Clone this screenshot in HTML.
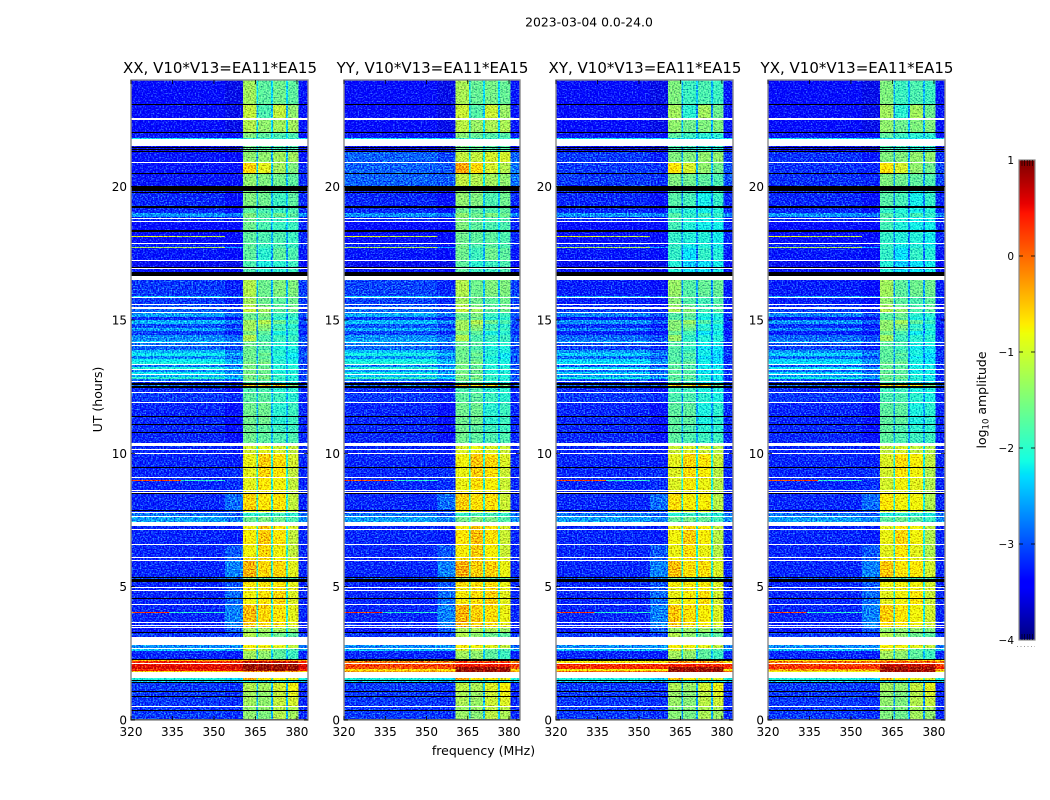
<!DOCTYPE html>
<html lang="en">
<head>
<meta charset="utf-8">
<title>2023-03-04 dynamic spectra</title>
<style>
html,body{margin:0;padding:0;background:#fff;width:1050px;height:800px;overflow:hidden}
svg{display:block}
text{font-family:"DejaVu Sans","Liberation Sans",sans-serif;fill:#000}
</style>
</head>
<body>
<svg id="figure" xmlns="http://www.w3.org/2000/svg" width="1050" height="800" viewBox="0 0 1050 800">
<defs>
<filter id="speckle0" filterUnits="userSpaceOnUse" x="131" y="80" width="177" height="640" color-interpolation-filters="sRGB"><feTurbulence type="fractalNoise" baseFrequency="0.62 0.75" numOctaves="1" seed="3" result="n"/><feColorMatrix in="n" type="matrix" values="0.5 0 0 0 0.25  1 0 0 0 0  0.25 0 0 0 0.375  0 0 0 0 1" result="m"/><feComposite in="SourceGraphic" in2="m" operator="arithmetic" k1="0" k2="1" k3="1.8" k4="-0.9"/></filter>
<filter id="speckle1" filterUnits="userSpaceOnUse" x="344" y="80" width="176" height="640" color-interpolation-filters="sRGB"><feTurbulence type="fractalNoise" baseFrequency="0.62 0.75" numOctaves="1" seed="11" result="n"/><feColorMatrix in="n" type="matrix" values="0.5 0 0 0 0.25  1 0 0 0 0  0.25 0 0 0 0.375  0 0 0 0 1" result="m"/><feComposite in="SourceGraphic" in2="m" operator="arithmetic" k1="0" k2="1" k3="1.8" k4="-0.9"/></filter>
<filter id="speckle2" filterUnits="userSpaceOnUse" x="556" y="80" width="177" height="640" color-interpolation-filters="sRGB"><feTurbulence type="fractalNoise" baseFrequency="0.62 0.75" numOctaves="1" seed="23" result="n"/><feColorMatrix in="n" type="matrix" values="0.5 0 0 0 0.25  1 0 0 0 0  0.25 0 0 0 0.375  0 0 0 0 1" result="m"/><feComposite in="SourceGraphic" in2="m" operator="arithmetic" k1="0" k2="1" k3="1.8" k4="-0.9"/></filter>
<filter id="speckle3" filterUnits="userSpaceOnUse" x="768" y="80" width="177" height="640" color-interpolation-filters="sRGB"><feTurbulence type="fractalNoise" baseFrequency="0.62 0.75" numOctaves="1" seed="37" result="n"/><feColorMatrix in="n" type="matrix" values="0.5 0 0 0 0.25  1 0 0 0 0  0.25 0 0 0 0.375  0 0 0 0 1" result="m"/><feComposite in="SourceGraphic" in2="m" operator="arithmetic" k1="0" k2="1" k3="1.8" k4="-0.9"/></filter>
</defs>
<text x="589" y="26.5" font-size="12.4" text-anchor="middle">2023-03-04 0.0-24.0</text>
<text x="220" y="73" font-size="15" text-anchor="middle">XX, V10*V13=EA11*EA15</text>
<text x="432.5" y="73" font-size="15" text-anchor="middle">YY, V10*V13=EA11*EA15</text>
<text x="645" y="73" font-size="15" text-anchor="middle">XY, V10*V13=EA11*EA15</text>
<text x="857" y="73" font-size="15" text-anchor="middle">YX, V10*V13=EA11*EA15</text>
<text x="483.5" y="755" font-size="12.5" text-anchor="middle">frequency (MHz)</text>
<text transform="translate(102,399.5) rotate(-90)" font-size="12.5" text-anchor="middle">UT (hours)</text>
<text transform="translate(986,400) rotate(-90)" font-size="12.5" text-anchor="middle">log<tspan font-size="8.5" dy="2.5">10</tspan><tspan dy="-2.5"> amplitude</tspan></text>
<g id="panels"></g>
<g id="colorbar"></g>
</svg>
<script>
// ---------- data ----------
const W = null;   // flagged: white
const K = -9;     // zeroed: black
const xTicks = [320, 335, 350, 365, 380];
const yTicks = [0, 5, 10, 15, 20];
const colorbarTicks = [1, 0, -1, -2, -3, -4];
const panelNames = ['xx', 'yy', 'xy', 'yx'];
// frequency edges (MHz) of: bg, ramp, band1, gap, band2, gap, band3, gap, band4, tail
const freqEdges = [320, 354, 360.5, 365.4, 366, 370.6, 371.3, 376, 376.8, 380.6, 384];
// rows: [top time bin (2.25 min each), bg, ramp, band1, band2, band3, band4, gap, tail] in log10 amplitude
const timeRows = [
[640,-3.2,-3.2,-1.3,-1.7,-1.6,-1.7,-2.3,-3.1],[616,K],[615,-3.2,-3.2,-1.1,-1.8,-1.1,-1.4,-2.5,-3.1],[602,W],
[600,-3.2,-3.2,-1.2,-1.4,-1.3,-1.3,-2.3,-3.1],[588,K],[587,-3.1,-3.1,-1.5,-1.7,-1.8,-1.8,-2.3,-3.1],[582,-2,-2,-2,-2,-2,-2,-2,-2],[581,W],
[574,-3.3,-3.3,-1.6,-1.7,-1.8,-1.8,-2.5,-3.2],[573,K],[572,-3.3,-3.3,-1.6,-1.7,-1.8,-1.8,-2.5,-3.2],[571,K],[570,-3.3,-3.3,-1.6,-1.7,-1.8,-1.8,-2.5,-3.2],[569,K],
[568,-3.1,-3.1,-1.4,-1.4,-1.3,-1.3,-2.5,-3.1],[558,W],[557,-3.1,-3,-0.6,-0.9,-1.3,-1.5,-2.4,-3],[547,K],
[546,-3.1,-3,-1.4,-1.5,-1.6,-1.7,-2.5,-3],[534,K],[529,-3,-3,-1.5,-1.6,-1.9,-1.7,-2.5,-3],[528,K],
[527,-3,-3,-1.5,-1.6,-1.9,-1.7,-2.5,-3],[514,K],[512,-3,-3,-1.7,-1.8,-1.9,-1.8,-2.5,-3],
[507,-2.45,-2.4,-1.5,-1.7,-1.6,-1.7,-2.2,-2.5],[503,-3,-3,-1.6,-1.8,-1.9,-1.9,-2.4,-3],[502,W],[501,-3,-3,-1.6,-1.8,-1.9,-1.9,-2.4,-3],[499,W],
[498,-3.2,-3.1,-1.6,-1.8,-1.9,-1.9,-2.4,-3],[490,K],[488,-3.2,-3.1,-1.7,-1.8,-1.8,-1.9,-2.5,-3],
[477,W],[476,-3,-3,-1.7,-1.9,-1.8,-1.9,-2.5,-3],[473,-2,-2.2,-1.6,-1.9,-1.8,-1.9,-2.5,-3],[472,-3.1,-3.1,-1.7,-2,-1.7,-1.8,-2.6,-3.1],
[460,W],[459,-3.3,-3.2,-1.8,-2.1,-2,-1.9,-2.6,-3.2],[453,K],[452,W],[451,-3.1,-3.1,-1.8,-2,-2,-1.9,-2.6,-3.1],[448,K],[444,W],
[440,-2.9,-2.9,-1.2,-1.6,-1.5,-1.5,-2.5,-2.9],[424,-2.2,-2.2,-1.3,-1.6,-1.6,-1.6,-2.4,-2.6],[423,W],
[422,-2.9,-2.9,-1.3,-1.6,-1.7,-1.6,-2.5,-2.9],[416,W],[415,-2.8,-2.8,-1.2,-1.5,-1.7,-1.6,-2.5,-2.9],[413,W],
[411,-2.7,-2.7,-1.1,-1.3,-1.7,-1.6,-2.5,-2.9],[408,W],
[407,-2.4,-2.5,-1.6,-1.5,-1.9,-1.9,-2.5,-2.8],[403,-3,-3,-1.6,-1.6,-2,-2,-2.7,-3],[400,-2.3,-2.4,-1.3,-1.2,-1.6,-1.8,-2.5,-2.8],
[396,-2.8,-2.8,-1.3,-1.4,-1.9,-2,-2.6,-3],[392,-2.4,-2.5,-1.3,-1.5,-1.8,-1.9,-2.5,-2.8],[389,-2.9,-2.9,-1.5,-1.7,-2.1,-2,-2.7,-3],
[385,-2.5,-2.5,-1.2,-1.8,-1.9,-1.9,-2.5,-2.8],[379,-2.2,-2.3,-1.6,-1.7,-2,-2,-2.5,-2.7],[378,W],[377,-2.6,-2.6,-1.6,-1.7,-2,-2,-2.6,-2.8],[375,W],
[374,-2.7,-2.7,-1.6,-1.8,-2.1,-2.1,-2.6,-2.9],[370,-2.3,-2.4,-1.6,-1.7,-2,-2.1,-2.5,-2.8],[367,-2,-2.2,-1.6,-1.6,-2,-2.2,-2.5,-2.7],
[364,-2.5,-2.5,-1.6,-1.7,-2.1,-2.2,-2.6,-2.9],[361,-2,-2.2,-1.6,-1.6,-2,-2.1,-2.5,-2.8],[358,-1.9,-2.1,-1.5,-1.5,-2,-2.1,-2.5,-2.8],[356,W],
[355,-2.6,-2.6,-1.6,-1.7,-2.1,-2.1,-2.6,-2.9],[353,-1.9,-2.1,-1.5,-1.6,-2,-2,-2.5,-2.8],[351,W],[350,-2.5,-2.5,-1.6,-1.6,-2.1,-2.1,-2.6,-2.9],
[348,-2,-2.2,-1.5,-1.6,-2,-2,-2.5,-2.8],[346,W],[345,-2.3,-2.3,-1.6,-1.6,-2,-2.1,-2.5,-2.9],[343,-1.8,-2,-1.5,-1.5,-1.9,-2,-2.4,-2.8],
[341,-2.6,-2.6,-1.6,-1.7,-2,-2.1,-2.6,-2.9],[339,W],[338,-3,-3,-1.8,-1.8,-2.1,-2.1,-2.6,-3],[337,K],
[335,-2.6,-2.6,-0.5,-0.5,-0.6,-1.4,-2.2,-2.8],[334,K],[332,-3,-3,-1.8,-1.8,-2,-2,-2.6,-3],[328,W],
[327,-2.9,-2.8,-1.7,-1.7,-1.9,-2,-2.5,-3],[318,W],[317,-3,-3,-1.6,-1.6,-2,-1.9,-2.5,-3],[304,K],[303,-3,-3,-1.6,-1.6,-2,-1.9,-2.5,-3],
[296,K],[295,-3,-3,-1.6,-1.7,-1.9,-1.9,-2.5,-3],[288,K],[287,-3,-3,-1.6,-1.7,-1.8,-1.8,-2.5,-3],[277,W],
[274,-3,-2.9,-1,-0.9,-1,-1.1,-2.2,-3],[271,W],[270,-3,-2.9,-1,-0.9,-1,-1.1,-2.2,-3],[267,W],
[266,-3,-2.9,-0.85,-0.55,-0.65,-1,-2,-3],[253,K],[252,-3,-2.8,-0.9,-0.6,-0.7,-1.1,-2,-3],[243,W],[242,-3,-2.8,-0.9,-0.7,-0.8,-1.1,-2,-3],
[230,W],[229,-3,-2.7,-0.8,-0.8,-0.8,-1.1,-2,-3],[228,W],[227,K],[226,-3,-2.5,-0.6,-0.7,-0.7,-1.1,-2,-3],[210,K],
[209,-3,-2.7,-0.9,-0.9,-0.9,-1.2,-2.1,-3],[208,W],[207,-2.6,-2.6,-2,-1.9,-1.9,-2,-2.4,-2.6],[204,W],
[203,-2.4,-2.4,-1.6,-1.5,-1.6,-1.8,-2.1,-2.5],[198,W],[194,-3,-2.9,-0.8,-0.55,-0.7,-1,-2,-3],[191,W],
[190,-3,-2.9,-0.75,-0.5,-0.7,-1.1,-2,-3],[176,W],[175,-3,-2.6,-0.8,-0.6,-0.8,-1.1,-2,-3],[163,W],[162,-3,-2.6,-0.7,-0.6,-0.8,-1,-2,-3],[160,W],
[159,-3,-2.4,-0.4,-0.6,-0.6,-0.9,-1.9,-3],[143,K],[142,-2.8,-2.5,-1.5,-1.7,-1.7,-1.7,-2.3,-2.8],[141,K],
[138,-3,-2.6,-0.7,-0.7,-0.7,-0.9,-2,-3],[133,W],[132,-3,-2.6,-0.8,-0.7,-0.7,-0.9,-2,-3],[130,W],
[129,-3,-2.5,-0.8,-0.7,-0.6,-0.95,-2,-3],[122,K],[121,-3,-2.5,-0.8,-0.7,-0.6,-0.95,-2,-3],[116,W],
[115,-3,-2.4,-0.45,-0.6,-0.7,-0.9,-2,-3],[98,W],[97,-3,-2.4,-0.5,-0.6,-0.7,-0.9,-2,-3],[95,W],[94,-3,-2.4,-0.5,-0.6,-0.7,-0.9,-2,-3],[93,W],
[92,-3.1,-2.6,-1.3,-1.3,-1.3,-1.4,-2.3,-3.1],[88,K],[87,-2.9,-2.7,-1.2,-1.4,-1.6,-1.7,-2.2,-2.9],[83,W],
[75,-2.5,-2.3,-0.75,-0.8,-0.9,-1.1,-2,-2.6],[72,W],[71,-2.2,-2.2,-1,-1.2,-1.7,-1.8,-2.1,-2.3],[69,-3,-2.9,-1.3,-1.4,-1.7,-1.9,-2.4,-3],
[61,K],[60,-0.4,-0.3,-0.2,-0.2,-0.2,-0.2,-0.3,-0.4],[59,0.35,0.35,0.7,0.7,0.7,0.7,0.5,0.35],[57,W],[56,0.55,0.6,0.9,0.9,0.9,0.9,0.7,0.6],
[53,0.6,0.65,0.9,0.9,0.9,0.9,0.7,0.6],[51,0.45,0.5,0.9,0.9,0.9,0.9,0.7,0.45],[49,-0.6,-0.6,-0.2,-0.2,-0.2,-0.2,-0.6,-0.6],[48,W],
[42,-1.9,-1.9,-0.4,-0.7,-0.8,-0.9,-1.8,-1.9],[40,K],[39,-2.2,-2.2,-2.2,-2.2,-2.2,-2.2,-2.2,-2.2],[38,K],
[37,-2.9,-2.8,-1.2,-1.3,-1,-0.8,-2.5,-3],[29,K],[28,-2.9,-2.8,-1.3,-1.4,-1.1,-0.9,-2.5,-3],[24,K],[23,-2.9,-2.8,-1.3,-1.4,-1.1,-1,-2.5,-3],
[14,W],[13,-2.9,-2.8,-1.4,-1.4,-1.2,-1.2,-2.5,-3],[10,K],[9,-2.9,-2.8,-1.4,-1.5,-1.2,-1.3,-2.5,-3],[1,K]
];
// per-polarisation shifts by time zone
const zoneStartBins = [0, 42, 75, 88, 203, 277, 340, 440, 534, 569];
const xxBgShift   = [0, 0, 0, 0, 0, 0, 0, 0, 0, 0];
const xxBandShift = [0, 0, 0, 0, 0, 0, 0, 0, 0, 0];
const yyBgShift   = [0, 0, 0, 0, 0, 0, 0.05, 0, 0.4, 0];
const yyBandShift = [0.05, 0, 0, 0.05, 0.05, 0, 0, 0.1, 0.3, 0.05];
const xyBgShift   = [0, 0, 0, 0, 0, 0, -0.15, 0, 0.2, 0];
const xyBandShift = [-0.05, 0, 0, -0.05, -0.05, -0.1, -0.15, -0.25, -0.1, -0.2];
const yxBgShift   = [0, 0, 0, 0, 0, 0, -0.15, 0, 0.15, 0];
const yxBandShift = [-0.1, 0, 0, -0.1, -0.1, -0.1, -0.1, -0.25, -0.1, -0.2];
// the noise floor and the slope next to the bands sit below the row table values
const bgBias = -0.2;
const rampBias = -0.35;
// strong-interference rows near 2 UT differ per polarisation
const redRowBins  = [60, 59, 56, 53, 51, 49];
const yyRedBg     = [K, -0.1, 0.25, 0.1, -0.6, -0.3];
const yyRedBand   = [K, 0.3, 0.5, 0.9, 0.9, 0.9];
const xyRedBg     = [K, -0.7, 0.35, 0.3, -0.75, 0.0];
const xyRedBand   = [K, -0.2, 0.4, 0.9, 0.9, 0.9];
const yxRedBg     = [-0.7, -0.1, 0.25, 0.35, -0.3, -0.8];
const yxRedBand   = [-0.5, 0.1, 0.7, 0.9, 0.85, 0.85];
// narrow interference lines: time bin, start MHz, end MHz, level
const rfiBins   = [484, 484, 473, 240, 240, 108, 108];
const rfiStart  = [320, 335, 320, 320, 338, 320, 334];
const rfiEnd    = [335, 354, 354, 338, 354, 334, 354];
const rfiLevels = [-0.9, -1.1, -1.2, 0.2, -2.0, 0.25, -2.0];

// ---------- layout and scales ----------
const SVGNS = 'http://www.w3.org/2000/svg';
const plotTop = 80, plotBottom = 720;
const panelLeft = [131, 344, 556, 768];
const panelWidth = [177, 176, 177, 177];
const bgShifts = [xxBgShift, yyBgShift, xyBgShift, yxBgShift];
const bandShifts = [xxBandShift, yyBandShift, xyBandShift, yxBandShift];
const redBgs = [null, yyRedBg, xyRedBg, yxRedBg];
const redBands = [null, yyRedBand, xyRedBand, yxRedBand];
const binHours = 2.25 / 60;
function xScale(p, mhz) { return panelLeft[p] + (mhz - 320) / 64 * panelWidth[p]; }
function yScale(ut) { return plotBottom - ut / 24 * (plotBottom - plotTop); }
function interp(t, pts) {
  if (t <= pts[0][0]) return pts[0][1];
  for (let i = 1; i < pts.length; i++) {
    if (t <= pts[i][0]) return pts[i-1][1] + (t - pts[i-1][0]) / (pts[i][0] - pts[i-1][0]) * (pts[i][1] - pts[i-1][1]);
  }
  return pts[pts.length-1][1];
}
function jet(v) {
  if (v === null) return '#ffffff';
  if (v <= K) return '#000000';
  const t = Math.max(0, Math.min(1, (v + 4) / 5));
  const r = interp(t, [[0.35,0],[0.66,1],[0.89,1],[1,0.5]]);
  const g = interp(t, [[0.125,0],[0.375,1],[0.64,1],[0.91,0]]);
  const b = interp(t, [[0,0.5],[0.11,1],[0.34,1],[0.65,0]]);
  return 'rgb(' + Math.round(r*255) + ',' + Math.round(g*255) + ',' + Math.round(b*255) + ')';
}
function make(tag, attrs, parent) {
  const el = document.createElementNS(SVGNS, tag);
  for (const k in attrs) el.setAttribute(k, attrs[k]);
  parent.appendChild(el);
  return el;
}
function zoneOf(bin) {
  let z = 0;
  for (let i = 0; i < zoneStartBins.length; i++) if (bin > zoneStartBins[i]) z = i;
  return z;
}
function shifted(v, d) { return (v === null || v <= K) ? v : v + d; }

// ---------- panels ----------
const panelsRoot = document.getElementById('panels');
panelNames.forEach(function (name, p) {
  const panel = make('g', {}, panelsRoot);
  
  
  const heat = make('g', { filter: 'url(#speckle' + p + ')', 'shape-rendering': 'crispEdges' }, panel);
  
  
  const flagged = make('g', { 'shape-rendering': 'crispEdges' }, panel);
  
  

  timeRows.forEach(function (row, i) {
    const topBin = row[0];
    const bottomBin = i + 1 < timeRows.length ? timeRows[i + 1][0] : 0;
    const y0 = yScale(topBin * binHours), y1 = yScale(bottomBin * binHours);
    if (row.length === 2) {
      const bar = make('rect', { x: xScale(p, 320), y: y0, width: xScale(p, 384) - xScale(p, 320), height: y1 - y0, fill: jet(row[1]) }, flagged);
      
      
      return;
    }
    const z = zoneOf(topBin);
    const dBg = bgShifts[p][z], dBand = bandShifts[p][z];
    let bg = shifted(row[1], dBg + (row[1] < -1.5 ? bgBias : 0));
    let ramp = shifted(row[2], dBg + (row[2] < -1.5 ? rampBias : 0));
    let b1 = shifted(row[3], dBand), b2 = shifted(row[4], dBand), b3 = shifted(row[5], dBand), b4 = shifted(row[6], dBand);
    let gap = shifted(row[7], dBand), tail = shifted(row[8], dBg + (row[8] < -1.5 ? bgBias : 0));
    const red = redRowBins.indexOf(topBin);
    if (red >= 0 && redBgs[p]) {
      bg = redBgs[p][red]; ramp = bg; tail = bg;
      b1 = b2 = b3 = b4 = redBands[p][red];
      gap = redBands[p][red] <= K ? K : redBands[p][red] - 0.2;
    }
    const cols = [bg, ramp, b1, gap, b2, gap, b3, gap, b4, tail];
    cols.forEach(function (v, c) {
      const x0 = xScale(p, freqEdges[c]), x1 = xScale(p, freqEdges[c + 1]);
      const cell = make('rect', { x: x0, y: y0, width: x1 - x0, height: y1 - y0, fill: jet(v) }, heat);
      
      
    });
  });

  rfiBins.forEach(function (bin, i) {
    const x0 = xScale(p, rfiStart[i]), x1 = xScale(p, rfiEnd[i]);
    const line = make('rect', { x: x0, y: yScale(bin * binHours), width: x1 - x0, height: 1, fill: jet(rfiLevels[i]) }, heat);
    
    
  });

  const left = panelLeft[p], right = left + panelWidth[p];
  const frame = make('rect', { x: left, y: plotTop, width: panelWidth[p], height: plotBottom - plotTop, fill: 'none', stroke: '#8a8a8a', 'stroke-width': 1.4 }, panel);
  
  

  xTicks.forEach(function (t) {
    const x = xScale(p, t);
    const a = make('line', { x1: x, x2: x, y1: plotBottom, y2: plotBottom - 4, stroke: '#000', 'stroke-width': 0.8 }, panel);
    
    
    const b = make('line', { x1: x, x2: x, y1: plotTop, y2: plotTop + 4, stroke: '#000', 'stroke-width': 0.8 }, panel);
    
    
    const lab = make('text', { x: x, y: plotBottom + 16, 'font-size': 12, 'text-anchor': 'middle' }, panel);
    
    
    lab.textContent = t;
  });
  yTicks.forEach(function (t) {
    const y = yScale(t);
    const a = make('line', { x1: left, x2: left + 4, y1: y, y2: y, stroke: '#000', 'stroke-width': 0.8 }, panel);
    
    
    const b = make('line', { x1: right, x2: right - 4, y1: y, y2: y, stroke: '#000', 'stroke-width': 0.8 }, panel);
    
    
    const lab = make('text', { x: left - 4, y: y + 4.5, 'font-size': 12, 'text-anchor': 'end' }, panel);
    
    
    lab.textContent = t;
  });
});

// ---------- colorbar ----------
const cb = document.getElementById('colorbar');
const cbLeft = 1019, cbWidth = 16, cbTop = 160, cbBottom = 640;
function cbY(v) { return cbBottom - (v + 4) / 5 * (cbBottom - cbTop); }
for (let i = 0; i < 240; i++) {
  const v0 = -4 + i * 5 / 240, v1 = v0 + 5 / 240;
  const seg = make('rect', { x: cbLeft, y: cbY(v1), width: cbWidth, height: cbY(v0) - cbY(v1) + 0.5, fill: jet((v0 + v1) / 2), 'shape-rendering': 'crispEdges' }, cb);
  
  
}
const cbFrame = make('rect', { x: cbLeft, y: cbTop, width: cbWidth, height: cbBottom - cbTop, fill: 'none', stroke: '#8a8a8a', 'stroke-width': 1.2 }, cb);


colorbarTicks.forEach(function (t) {
  const y = cbY(t);
  if (t < 1 && t > -4) {
    const a = make('line', { x1: cbLeft, x2: cbLeft + 4, y1: y, y2: y, stroke: '#000', 'stroke-width': 0.8 }, cb);
    
    
    const b = make('line', { x1: cbLeft + cbWidth - 4, x2: cbLeft + cbWidth, y1: y, y2: y, stroke: '#000', 'stroke-width': 0.8 }, cb);
    
    
  } else {
    for (let k = 0; k < 5; k++) {
      const x = cbLeft + 3 + k * 2.6;
      const dir = t === 1 ? 1 : -1;
      const m = make('line', { x1: x, x2: x, y1: y, y2: y + dir * 6, stroke: '#000', 'stroke-width': 0.6 }, cb);
      
      
    }
  }
  const lab = make('text', { x: cbLeft - 5, y: y + 4, 'font-size': 10.5, 'text-anchor': 'end' }, cb);
  
  
  lab.textContent = String(t).replace('-', '\u2212');
});
const dots = make('line', { x1: 1017, x2: 1035, y1: 646.5, y2: 646.5, stroke: '#999', 'stroke-width': 1, 'stroke-dasharray': '1 2.5' }, cb);


</script>
</body>
</html>
